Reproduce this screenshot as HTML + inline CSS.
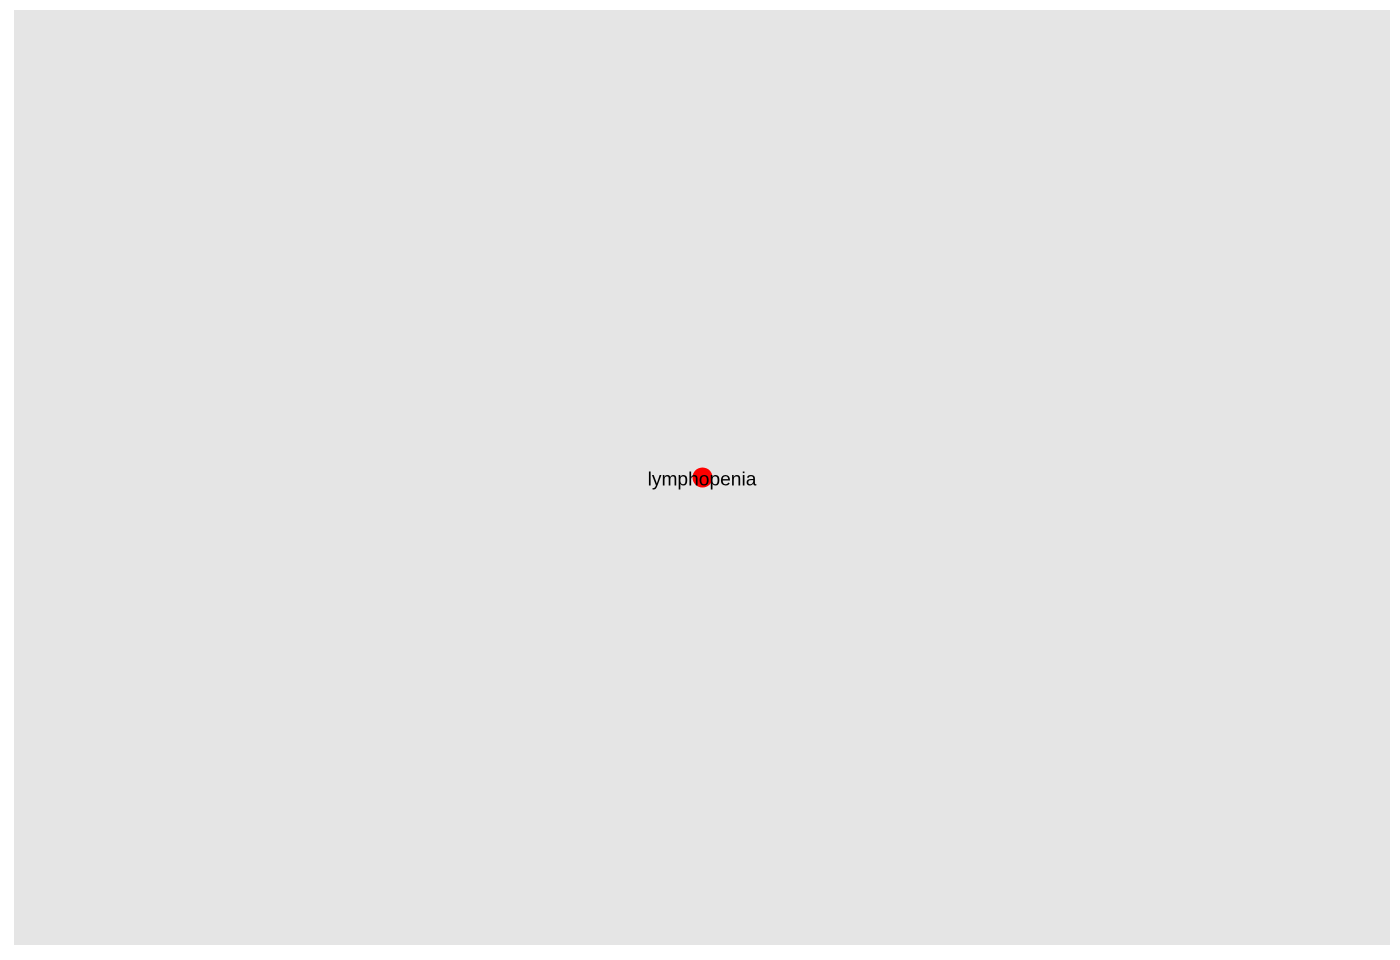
<!DOCTYPE html>
<html><head><meta charset="utf-8"><style>
html,body{margin:0;padding:0;background:#fff;}
svg{display:block;}
</style></head><body>
<svg width="1400" height="960">
<rect x="14" y="10" width="1376" height="935" fill="#e5e5e5"/>
<g id="nodes"></g>
</svg>
<script>
const nodeLabels = ["lymphopenia"];
const nodeX = [0];
const nodeY = [0];
const xDomain = [-1, 1], yDomain = [-1, 1];
const sx = v => 14 + (v - xDomain[0]) / (xDomain[1] - xDomain[0]) * 1376;
const sy = v => 945 - (v - yDomain[0]) / (yDomain[1] - yDomain[0]) * 935;
const g = document.getElementById('nodes');
const ns = 'http://www.w3.org/2000/svg';
nodeLabels.forEach((lab, i) => {
  const c = document.createElementNS(ns, 'circle');
  c.setAttribute('cx', sx(nodeX[i]) + 0.5);
  c.setAttribute('cy', sy(nodeY[i]));
  c.setAttribute('r', 10);
  c.setAttribute('fill', '#ff0000');
  
  
  g.appendChild(c);
  const t = document.createElementNS(ns, 'text');
  t.setAttribute('x', sx(nodeX[i]));
  t.setAttribute('y', sy(nodeY[i]) + 8);
  t.setAttribute('text-anchor', 'middle');
  t.setAttribute('font-family', 'Liberation Sans, sans-serif');
  t.setAttribute('font-size', '19.2');
  t.setAttribute('fill', '#000');
  t.textContent = lab;
  
  
  g.appendChild(t);
});
</script>
</body></html>
